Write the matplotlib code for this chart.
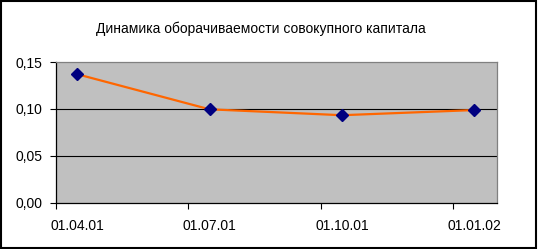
import matplotlib.pyplot as plt
from matplotlib.patches import Rectangle
from matplotlib.ticker import FixedLocator, FuncFormatter

plt.rcParams['font.family'] = ['Liberation Sans', 'DejaVu Sans']

dates = ['01.04.01', '01.07.01', '01.10.01', '01.01.02']
turnover = [0.137, 0.0995, 0.0932, 0.0987]
title = 'Динамика оборачиваемости совокупного капитала'


def main():
    fig = plt.figure(figsize=(5.38, 2.49), dpi=100)
    ax = fig.add_axes([0.1041, 0.1867, 0.8188, 0.5643])
    ax.set_facecolor('#C0C0C0')

    x = list(range(len(dates)))
    ax.plot(x, turnover, color='#FF6600', lw=1.6, zorder=3)
    ax.plot(x, turnover, ls='none', marker='D', ms=6.5, color='#000080', zorder=4)

    ax.set_ylim(0, 0.15)
    ax.set_yticks([0, 0.05, 0.10, 0.15])
    ax.yaxis.set_major_formatter(FuncFormatter(lambda v, p: f'{v:.2f}'.replace('.', ',')))
    for yv in [0.05, 0.10]:
        ax.axhline(yv, color='black', lw=0.8, zorder=2)

    # ticks sit between labels, labels centred on the points
    off = 21 / 132
    ax.set_xlim(-off, len(dates) - 1 + 0.167)
    ax.xaxis.set_major_locator(FixedLocator([i - off for i in x]))
    ax.xaxis.set_major_formatter(FuncFormatter(lambda v, p: ''))
    ax.xaxis.set_minor_locator(FixedLocator(x))
    ax.set_xticks(x, dates, minor=True)
    ax.tick_params(axis='x', which='minor', length=0, pad=12, labelsize=10)
    ax.tick_params(axis='x', which='major', length=4, width=0.8, direction='out')
    ax.tick_params(axis='y', length=4, width=0.8, pad=6, labelsize=10)

    ax.spines['left'].set_color('black')
    ax.spines['bottom'].set_color('black')
    ax.spines['top'].set_color('#808080')
    ax.spines['right'].set_color('#808080')
    for s in ax.spines.values():
        s.set_linewidth(0.9)

    fig.text(0.485, 0.885, title, ha='center', va='center', fontsize=10)
    fig.patches.append(Rectangle((0.002, 0.004), 0.995, 0.99, transform=fig.transFigure,
                                 fill=False, edgecolor='black', lw=1.5))

    fig.savefig('out.png', dpi=100)


if __name__ == '__main__':
    main()
